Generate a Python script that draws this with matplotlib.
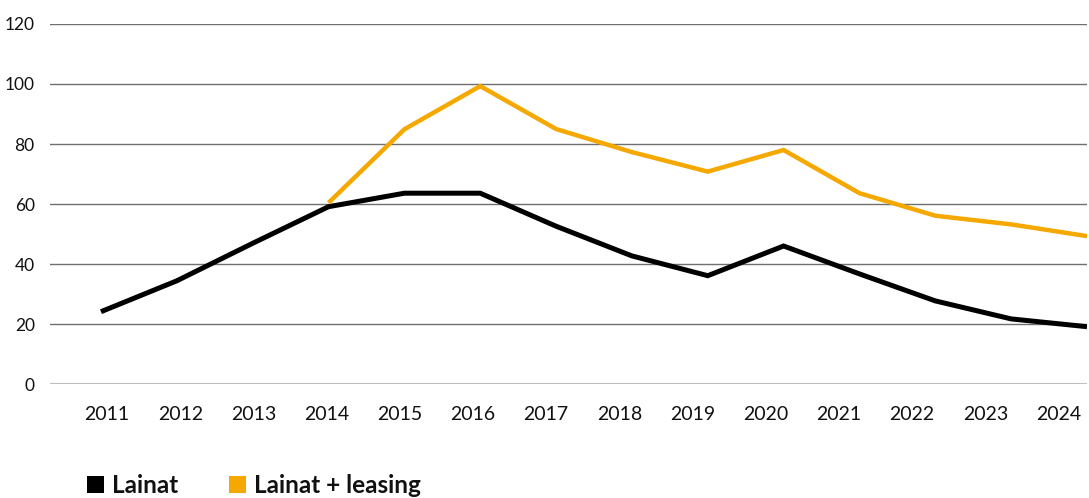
import matplotlib
matplotlib.use("Agg")
import matplotlib.pyplot as plt
from matplotlib.patches import Rectangle

# ---- data ----
years = ["2011", "2012", "2013", "2014", "2015", "2016", "2017",
         "2018", "2019", "2020", "2021", "2022", "2023", "2024"]
lainat = [24.1, 34.4, 46.9, 59.1, 63.6, 63.6, 52.6, 42.7, 36.1, 46.0, 36.7, 27.7, 21.7, 19.1]
lainat_leasing = [None, None, None, 60.4, 84.9, 99.3, 85.0, 77.3, 70.8, 78.0, 63.6, 56.1, 53.2, 49.3]
series_names = ["Lainat", "Lainat + leasing"]
y_ticks = [0, 20, 40, 60, 80, 100, 120]

BLACK = "#000000"
ORANGE = "#F5A800"

plt.rcParams["font.family"] = ["Lato", "DejaVu Sans"]

fig = plt.figure(figsize=(10.89, 4.98), dpi=100)
ax = fig.add_axes([50 / 1089, (498 - 384) / 498, (1087 - 50) / 1089, 360 / 498])

x = list(range(len(years)))
ax.plot(x, lainat, color=BLACK, lw=3.6, solid_capstyle="butt", solid_joinstyle="miter", zorder=3)
xo = [xi for xi, v in zip(x, lainat_leasing) if v is not None]
yo = [v for v in lainat_leasing if v is not None]
ax.plot(xo, yo, color=ORANGE, lw=3.2, solid_capstyle="butt", solid_joinstyle="miter", zorder=3)

ax.set_xlim(-0.672, 13.0)
ax.set_ylim(0, 120)

ax.set_yticks(y_ticks)
ax.set_yticklabels([str(v) for v in y_ticks])
ax.grid(axis="y", color="#707070", lw=1.0, zorder=0)
ax.axhline(0, color="#1a1a1a", lw=1.0, zorder=1)

label_pos = [0.08 + 0.965 * k for k in range(len(years))]
ax.set_xticks(label_pos)
ax.set_xticklabels(years)

for s in ax.spines.values():
    s.set_visible(False)
ax.tick_params(axis="x", length=0, pad=16, labelsize=14, colors="#111111")
ax.tick_params(axis="y", length=0, pad=11, labelsize=12.5, colors="#111111")

# ---- legend ----
def legend_item(x_px, color, text, text_x_px):
    fig.add_artist(Rectangle((x_px / 1089, 5 / 498), 17 / 1089, 17 / 498,
                             transform=fig.transFigure, color=color, lw=0))
    fig.text(text_x_px / 1089, 5 / 498, text, fontsize=17.5, fontweight="bold",
             color="#111111", va="baseline", ha="left")

legend_item(87, BLACK, series_names[0], 112)
legend_item(229, ORANGE, series_names[1], 254)

fig.savefig("out.png", dpi=100)
